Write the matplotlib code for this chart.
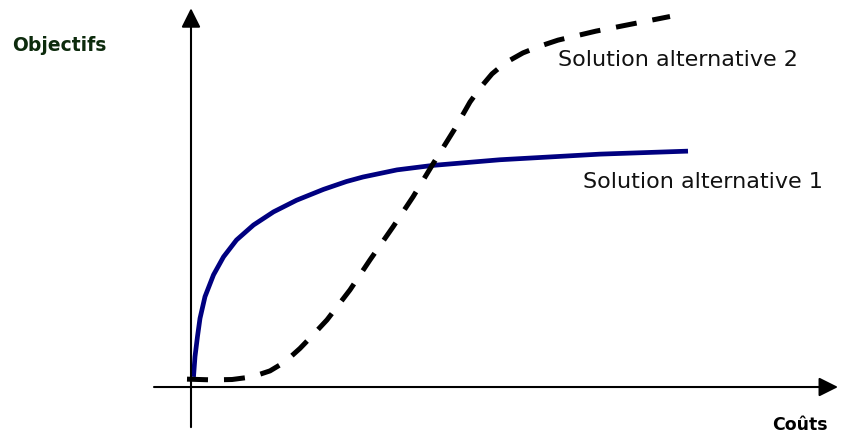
import matplotlib
matplotlib.use("Agg")
import matplotlib.pyplot as plt

# Solution alternative 1 (courbe pleine) : coûts / objectifs
cout_1 = [0.05, 0.08, 0.13, 0.18, 0.28, 0.45, 0.65, 0.91, 1.25, 1.65, 2.11, 2.65, 3.11,
          3.44, 4.12, 4.84, 6.18, 8.18, 9.94]
obj_1 = [0.27, 0.81, 1.35, 1.83, 2.41, 2.99, 3.47, 3.92, 4.32, 4.67, 4.98, 5.27, 5.48,
         5.60, 5.79, 5.91, 6.06, 6.21, 6.29]

# Solution alternative 2 (courbe en tirets)
cout_2 = [-0.08, 0.42, 0.82, 1.22, 1.58, 1.88, 2.18, 2.44, 2.72, 3.18, 3.58, 4.04, 4.44,
          4.84, 5.26, 5.58, 5.78, 6.02, 6.28, 6.64, 6.98, 7.34, 8.10, 8.82, 9.58]
obj_2 = [0.21, 0.19, 0.20, 0.27, 0.43, 0.67, 1.03, 1.39, 1.79, 2.59, 3.39, 4.27, 5.07,
         5.95, 6.85, 7.60, 7.97, 8.35, 8.64, 8.91, 9.09, 9.25, 9.49, 9.68, 9.88]

fig = plt.figure(figsize=(8.41, 4.37), dpi=100)
ax = fig.add_axes([0, 0, 1, 1])
ax.set_xlim(-3.82, 13.0)
ax.set_ylim(-1.333, 10.32)
ax.axis("off")

# axes avec flèches
arrow = dict(arrowstyle="-|>,head_length=0.4,head_width=0.2", lw=1.5, color="black",
             mutation_scale=29, shrinkA=0, shrinkB=0)
ax.annotate("", xy=(12.94, 0), xytext=(-0.74, 0), arrowprops=arrow)
ax.annotate("", xy=(0, 10.1), xytext=(0, -1.07), arrowprops=arrow)

ax.plot(cout_1, obj_1, color="#000080", lw=3.4, solid_capstyle="butt",
        solid_joinstyle="round")
line2, = ax.plot(cout_2, obj_2, color="black", lw=3.6, dash_capstyle="butt")
line2.set_dashes((4.2, 3.2))

ax.text(-3.58, 9.12, "Objectifs", fontsize=13.5, fontweight="bold", color="#0d2b0d",
        ha="left", va="center")
ax.text(12.74, -1.01, "Coûts", fontsize=12.5, fontweight="bold", color="black",
        ha="right", va="center")
ax.text(7.34, 8.72, "Solution alternative 2", fontsize=16, color="#111111",
        ha="left", va="center")
ax.text(7.84, 5.47, "Solution alternative 1", fontsize=16, color="#111111",
        ha="left", va="center")

fig.savefig("out.png", dpi=100)
